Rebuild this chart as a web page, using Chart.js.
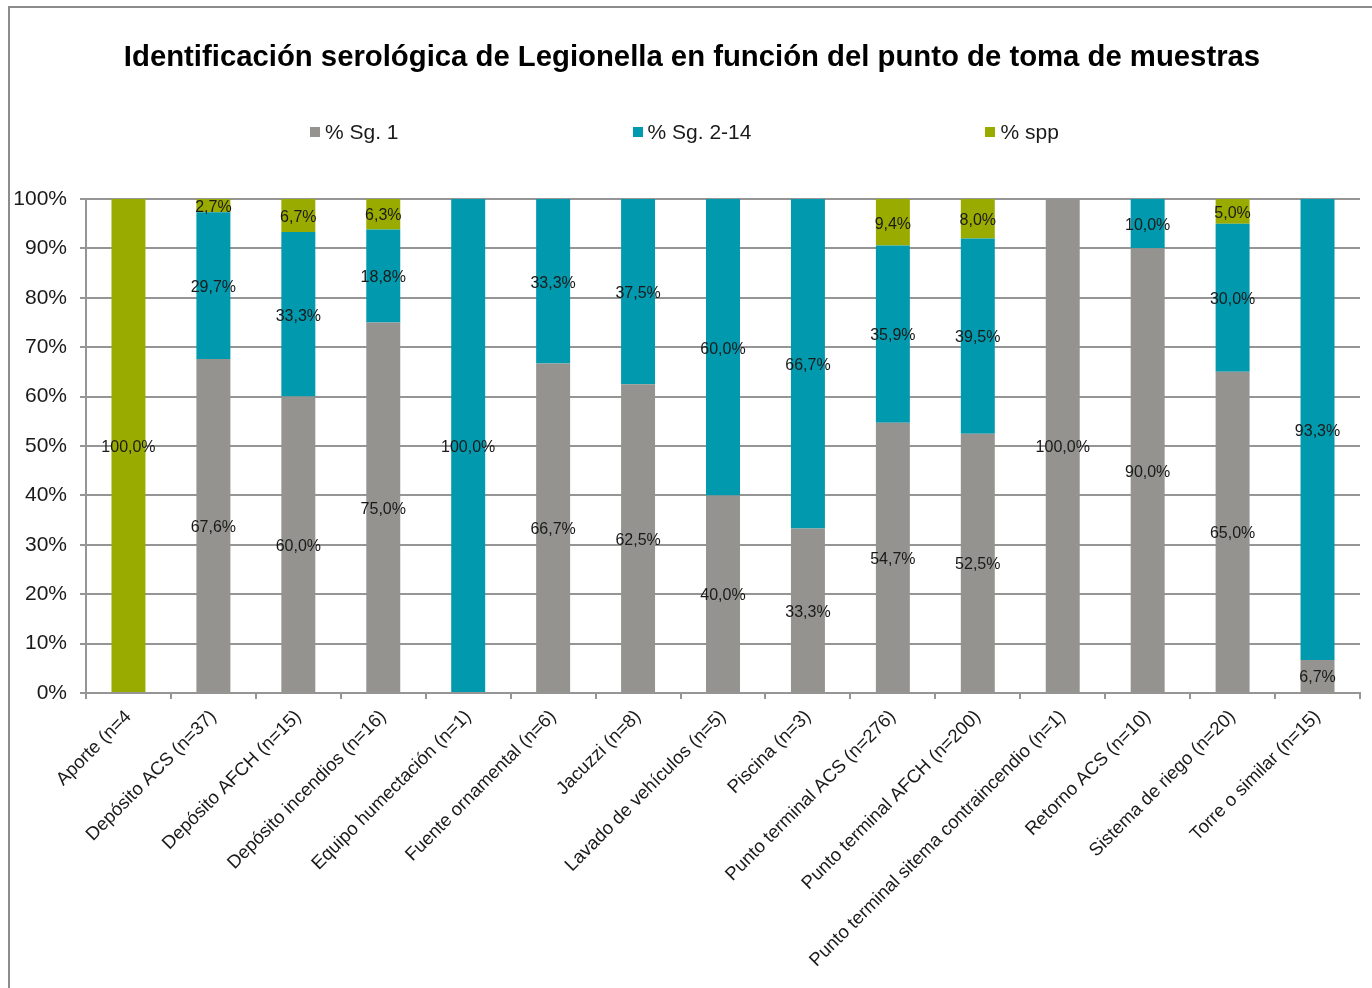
<!DOCTYPE html>
<html>
<head>
<meta charset="utf-8">
<title>Identificación serológica de Legionella</title>
<script src="https://cdn.jsdelivr.net/npm/chart.js@4.4.1/dist/chart.umd.min.js"></script>
<style>
    html, body { margin: 0; padding: 0; background: #ffffff; overflow: hidden; }
    body { width: 1372px; height: 988px; position: relative; font-family: "Liberation Sans", Arial, sans-serif; }
    #frame { position: absolute; left: 8px; top: 6px; width: 1400px; height: 1000px; border: 2px solid #8c8c8c; }
    #chartBox { position: absolute; left: 0; top: 0; width: 1372px; height: 988px; }
    #legend { position: absolute; left: 310px; top: 120px; height: 24px; display: flex; gap: 234px; align-items: center; }
    .legend-item { display: flex; align-items: center; font-size: 21px; color: #1a1a1a; white-space: nowrap; }
    .legend-box { width: 10px; height: 10px; margin-right: 5px; }
</style>
</head>
<body>
<div id="frame"></div>
<div id="chartBox"><canvas id="barChart" width="1372" height="988"></canvas></div>
<div id="legend"></div>

<script>
// Categories (punto de toma de muestras)
var categories = [
    'Aporte (n=4',
    'Depósito ACS (n=37)',
    'Depósito AFCH (n=15)',
    'Depósito incendios (n=16)',
    'Equipo humectación (n=1)',
    'Fuente ornamental (n=6)',
    'Jacuzzi (n=8)',
    'Lavado de vehículos (n=5)',
    'Piscina (n=3)',
    'Punto terminal ACS (n=276)',
    'Punto terminal AFCH (n=200)',
    'Punto terminal sitema contraincendio (n=1)',
    'Retorno ACS (n=10)',
    'Sistema de riego (n=20)',
    'Torre o similar (n=15)'
];

// Series values (%)
var sg1 = [0, 67.6, 60.0, 75.0, 0, 66.7, 62.5, 40.0, 33.3, 54.7, 52.5, 100.0, 90.0, 65.0, 6.7];
var sg214 = [0, 29.7, 33.3, 18.8, 100.0, 33.3, 37.5, 60.0, 66.7, 35.9, 39.5, 0, 10.0, 30.0, 93.3];
var spp = [100.0, 2.7, 6.7, 6.3, 0, 0, 0, 0, 0, 9.4, 8.0, 0, 0, 5.0, 0];

var seriesNames = ['% Sg. 1', '% Sg. 2-14', '% spp'];
var seriesColors = ['#94938f', '#0099ad', '#9aab00'];

// Y axis ticks
var yTicks = [0, 10, 20, 30, 40, 50, 60, 70, 80, 90, 100];

var gridColor = '#959595';

function formatPct(v) {
    return v.toFixed(1).replace('.', ',') + '%';
}

// Legend (HTML)
var legendEl = document.getElementById('legend');
seriesNames.forEach(function (name, i) {
    var item = document.createElement('div');
    item.className = 'legend-item';
    var box = document.createElement('span');
    box.className = 'legend-box';
    box.style.background = seriesColors[i];
    item.appendChild(box);
    item.appendChild(document.createTextNode(name));
    legendEl.appendChild(item);
});

// Value labels in the middle of each segment
var valueLabels = {
    id: 'valueLabels',
    afterDatasetsDraw: function (chart) {
        var ctx = chart.ctx;
        ctx.save();
        ctx.font = '16px "Liberation Sans", Arial, sans-serif';
        ctx.fillStyle = '#1a1a1a';
        ctx.textAlign = 'center';
        ctx.textBaseline = 'middle';
        chart.data.datasets.forEach(function (ds, di) {
            var meta = chart.getDatasetMeta(di);
            meta.data.forEach(function (bar, i) {
                var v = ds.data[i];
                if (!v) return;
                ctx.fillText(formatPct(v), bar.x, (bar.y + bar.base) / 2 + 2);
            });
        });
        ctx.restore();
    }
};

var ctx = document.getElementById('barChart').getContext('2d');
new Chart(ctx, {
    type: 'bar',
    data: {
        labels: categories,
        datasets: [
            { label: seriesNames[0], data: sg1, backgroundColor: seriesColors[0] },
            { label: seriesNames[1], data: sg214, backgroundColor: seriesColors[1] },
            { label: seriesNames[2], data: spp, backgroundColor: seriesColors[2] }
        ]
    },
    options: {
        responsive: false,
        animation: false,
        events: [],
        categoryPercentage: 1,
        barPercentage: 0.4,
        layout: { padding: { left: 12, right: 0, top: 0, bottom: 0 } },
        plugins: {
            legend: { display: false },
            tooltip: { enabled: false },
            title: {
                display: true,
                text: 'Identificación serológica de Legionella en función del punto de toma de muestras',
                color: '#000000',
                font: { family: '"Liberation Sans", Arial, sans-serif', size: 29.3, weight: 'bold', lineHeight: 1.2 },
                padding: { top: 40, bottom: 123.8 }
            }
        },
        scales: {
            x: {
                stacked: true,
                grid: { display: true, drawOnChartArea: false, offset: true, color: gridColor, lineWidth: 2, tickLength: 6 },
                border: { display: true, color: gridColor, width: 2 },
                ticks: {
                    minRotation: 45,
                    maxRotation: 45,
                    autoSkip: false,
                    padding: 7,
                    color: '#1a1a1a',
                    font: { family: '"Liberation Sans", Arial, sans-serif', size: 18.5 }
                },
                afterFit: function (scale) { scale.height = 295; }
            },
            y: {
                stacked: true,
                min: 0,
                max: 100,
                afterBuildTicks: function (scale) {
                    scale.ticks = yTicks.map(function (v) { return { value: v }; });
                },
                grid: { color: gridColor, lineWidth: 2, tickLength: 6 },
                border: { display: true, color: gridColor, width: 2 },
                ticks: {
                    padding: 13,
                    color: '#1a1a1a',
                    font: { family: '"Liberation Sans", Arial, sans-serif', size: 21 },
                    callback: function (v) { return v + '%'; }
                },
                afterFit: function (scale) { scale.width = 74; }
            },
            // empty spacer on the right so the title stays centred like the original
            spacer: {
                position: 'right',
                grid: { display: false },
                border: { display: false },
                ticks: { display: false },
                afterFit: function (scale) { scale.width = 12; }
            }
        }
    },
    plugins: [valueLabels]
});
</script>
</body>
</html>
